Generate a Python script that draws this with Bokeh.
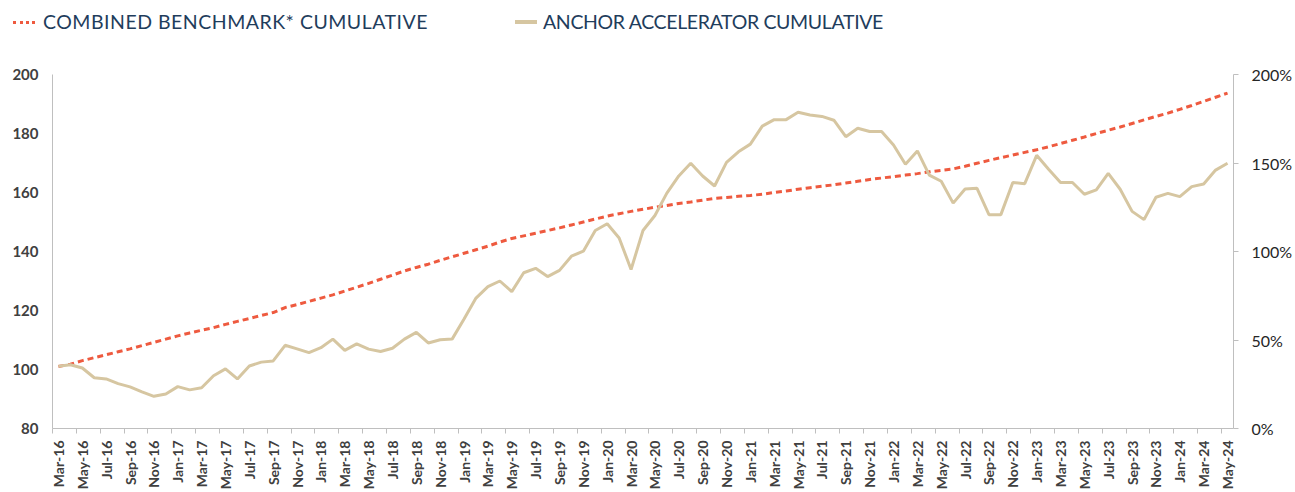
import pandas as pd
from bokeh.plotting import figure
from bokeh.layouts import column
from bokeh.models import (Range1d, LinearAxis, FixedTicker, PrintfTickFormatter,
                          CustomJSTickFormatter, ColumnDataSource, Div)
from bokeh.embed import file_html
from bokeh.resources import INLINE
import math

months = list(pd.date_range("2016-03-01", periods=99, freq="MS").strftime("%b-%y"))

benchmark = [101.0, 101.8, 103.0, 104.0, 105.0, 106.0, 107.0, 108.1, 109.2, 110.3,
             111.4, 112.4, 113.3, 114.2, 115.3, 116.3, 117.3, 118.3, 119.3, 121.0,
             122.0, 123.1, 124.2, 125.3, 126.6, 127.9, 129.2, 130.6, 132.0, 133.4,
             134.6, 135.7, 137.0, 138.2, 139.4, 140.6, 141.8, 143.2, 144.4, 145.3,
             146.2, 147.1, 148.0, 149.0, 150.0, 151.0, 152.0, 152.8, 153.6, 154.3,
             155.0, 155.6, 156.3, 156.8, 157.4, 158.0, 158.3, 158.7, 159.0, 159.4,
             160.0, 160.5, 161.1, 161.6, 162.1, 162.6, 163.2, 163.8, 164.4, 164.9,
             165.4, 165.9, 166.4, 167.0, 167.5, 168.0, 168.9, 169.9, 170.9, 171.8,
             172.7, 173.6, 174.5, 175.5, 176.6, 177.7, 178.8, 180.0, 181.1, 182.2,
             183.4, 184.6, 185.8, 186.9, 188.2, 189.5, 190.9, 192.3, 193.7]

anchor = [101.1, 101.6, 100.5, 97.2, 96.8, 95.2, 94.1, 92.4, 90.9, 91.7,
          94.2, 93.1, 93.8, 97.9, 100.2, 96.8, 101.2, 102.5, 102.9, 108.2,
          107.0, 105.7, 107.4, 110.3, 106.5, 108.7, 106.9, 106.1, 107.2, 110.3,
          112.6, 109.0, 110.1, 110.3, 117.1, 124.2, 128.1, 130.0, 126.4, 132.8,
          134.3, 131.5, 133.6, 138.4, 140.1, 147.1, 149.4, 144.6, 133.9, 147.1,
          152.2, 159.8, 165.6, 169.9, 165.6, 162.2, 170.2, 173.8, 176.4, 182.5,
          184.7, 184.7, 187.2, 186.3, 185.8, 184.5, 178.9, 181.8, 180.7, 180.7,
          176.1, 169.6, 174.1, 165.9, 163.8, 156.4, 161.2, 161.4, 152.5, 152.5,
          163.4, 163.0, 172.6, 167.9, 163.4, 163.4, 159.4, 160.9, 166.5, 161.1,
          153.6, 150.8, 158.4, 159.7, 158.6, 162.0, 162.9, 167.6, 169.9]

series_names = ["COMBINED BENCHMARK* CUMULATIVE", "ANCHOR ACCELERATOR CUMULATIVE"]
left_ticks = [80, 100, 120, 140, 160, 180, 200]
right_ticks = [0, 50, 100, 150, 200]

BENCH_COLOR = "#EE5A3F"
ANCHOR_COLOR = "#D6C6A1"
BENCH_DASH = "6 4"
TEXT_NAVY = "#1F3D5C"

n = len(months)
idx = list(range(n))
src = ColumnDataSource(dict(x=idx, bench=benchmark, anchor=anchor, month=months))

W = 1295
# ---------- legend strip (HTML) ----------
legend_html = f"""
<div style="position:relative;width:{W}px;height:40px;font-family:Lato;font-size:19.5px;
            color:{TEXT_NAVY};white-space:nowrap;line-height:1;">
  <span style="position:absolute;left:13px;top:21px;width:22px;height:0;
               border-top:3px dotted {BENCH_COLOR};"></span>
  <span style="position:absolute;left:43px;top:12px;letter-spacing:0.5px;">{series_names[0]}</span>
  <span style="position:absolute;left:515px;top:20px;width:22px;height:4px;
               background:{ANCHOR_COLOR};"></span>
  <span style="position:absolute;left:543px;top:12px;letter-spacing:-0.35px;">{series_names[1]}</span>
</div>
"""
lg = Div(text=legend_html, width=W, height=40, margin=(0, 0, 0, 0))

# ---------- main chart ----------
p = figure(width=W, height=452, output_backend="svg", toolbar_location=None,
           x_range=Range1d(-0.5, n - 0.5), y_range=Range1d(80, 200),
           min_border_left=52, min_border_right=59, min_border_top=34, min_border_bottom=62)
p.outline_line_color = None
p.xgrid.visible = False
p.ygrid.visible = False

p.line("x", "bench", source=src, line_color=BENCH_COLOR, line_width=3, line_dash=BENCH_DASH)
p.line("x", "anchor", source=src, line_color=ANCHOR_COLOR, line_width=3)

xa = p.xaxis[0]
xa.ticker = FixedTicker(ticks=idx[::2], minor_ticks=[i - 0.5 for i in idx[::2]])
xa.formatter = CustomJSTickFormatter(args=dict(labels=months),
                                     code="return labels[Math.round(tick)] || '';")
xa.major_label_orientation = math.pi / 2
xa.major_tick_out = 0
xa.major_tick_in = 0
xa.minor_tick_out = 5
xa.minor_tick_in = 0
xa.minor_tick_line_color = "#BFBFBF"
xa.axis_line_color = "#BFBFBF"
xa.major_label_text_font = "Lato"
xa.major_label_text_font_style = "bold"
xa.major_label_text_font_size = "14px"
xa.major_label_text_color = "#404040"
xa.major_label_standoff = 7

ya = p.yaxis[0]
ya.ticker = FixedTicker(ticks=left_ticks)
ya.major_tick_out = 0
ya.major_tick_in = 0
ya.minor_tick_line_color = None
ya.axis_line_color = "#BFBFBF"
ya.major_label_text_font = "Lato"
ya.major_label_text_font_style = "bold"
ya.major_label_text_font_size = "15px"
ya.major_label_text_color = "#404040"
ya.major_label_standoff = 14

p.extra_y_ranges = {"pct": Range1d(0, 200)}
ra = LinearAxis(y_range_name="pct", ticker=FixedTicker(ticks=right_ticks),
                formatter=PrintfTickFormatter(format="%d%%"))
ra.major_tick_out = 5
ra.major_tick_in = 0
ra.major_tick_line_color = "#BFBFBF"
ra.minor_tick_line_color = None
ra.axis_line_color = "#BFBFBF"
ra.major_label_text_font = "Lato"
ra.major_label_text_font_size = "16px"
ra.major_label_text_color = "#262626"
ra.major_label_standoff = 13
p.add_layout(ra, "right")

layout = column(lg, p, spacing=0)
open("out.html", "w").write(file_html(layout, INLINE))
